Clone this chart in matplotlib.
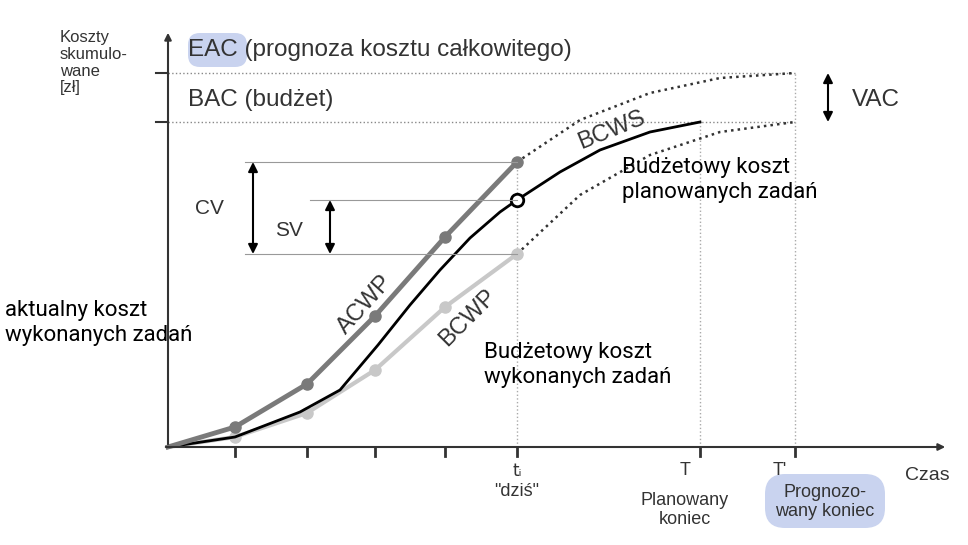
import matplotlib.pyplot as plt
from matplotlib.patches import FancyBboxPatch

# punkty krzywych (współrzędne rysunku)
bcws_x = [168, 235, 300, 340, 378, 410, 440, 470, 500, 517, 560, 600, 650, 700]
bcws_y = [447, 437, 412, 390, 345, 305, 270, 238, 212, 200, 172, 150, 132, 122]
acwp_x = [168, 235, 307, 375, 445, 517]
acwp_y = [447, 427, 384, 316, 237, 162]
bcwp_x = [168, 235, 307, 375, 445, 517]
bcwp_y = [447, 437, 413, 370, 307, 254]
acwp_dot_x = [517, 580, 650, 720, 795]
acwp_dot_y = [162, 120, 93, 78, 73]
bcwp_dot_x = [517, 580, 650, 720, 795]
bcwp_dot_y = [254, 195, 155, 132, 122]
x_ticks = [235, 307, 375, 445, 517, 700, 795]
eac_y, bac_y = 73, 122
x0, y0 = 168, 447

plt.rcParams['font.family'] = ['Liberation Sans', 'DejaVu Sans']
fig = plt.figure(figsize=(9.68, 5.45), dpi=100)
ax = fig.add_axes([0, 0, 1, 1])
ax.set_xlim(0, 968)
ax.set_ylim(545, 0)
ax.axis('off')

# osie
ax.annotate('', xy=(x0, 30), xytext=(x0, y0), arrowprops=dict(arrowstyle='-|>', color='#333', lw=1.5))
ax.annotate('', xy=(948, y0), xytext=(x0 - 5, y0), arrowprops=dict(arrowstyle='-|>', color='#333', lw=1.5))
for t in x_ticks:
    ax.plot([t, t], [y0, y0 + 9], color='#333', lw=2)
for yy in [eac_y, bac_y]:
    ax.plot([x0 - 12, x0], [yy, yy], color='#333', lw=1.5)
    ax.plot([x0, 795], [yy, yy], color='#888', lw=1, ls=':')

# linie pionowe
ax.plot([517, 517], [y0, 162], color='#aaa', lw=1, ls=':')
ax.plot([700, 700], [y0, bac_y], color='#aaa', lw=1, ls=':')
ax.plot([795, 795], [y0, eac_y], color='#aaa', lw=1, ls=':')

# krzywe
ax.plot(acwp_dot_x, acwp_dot_y, color='#333', lw=1.8, ls=':')
ax.plot(bcwp_dot_x, bcwp_dot_y, color='#333', lw=1.8, ls=':')
ax.plot(bcwp_x, bcwp_y, color='#c8c8c8', lw=3, marker='o', ms=8, markevery=range(1, 6))
ax.plot(bcws_x, bcws_y, color='black', lw=2)
ax.plot(acwp_x, acwp_y, color='#7a7a7a', lw=3.5, marker='o', ms=8, markevery=range(1, 6))
ax.plot([517], [200], marker='o', ms=9, mfc='white', mec='black', mew=2)

# CV, SV, VAC
ax.plot([245, 517], [162, 162], color='#999', lw=0.8)
ax.plot([245, 517], [254, 254], color='#999', lw=0.8)
ax.plot([310, 517], [200, 200], color='#999', lw=0.8)
arr = dict(arrowstyle='<|-|>', color='black', lw=1.5, mutation_scale=14, shrinkA=0, shrinkB=0)
ax.annotate('', xy=(253, 162), xytext=(253, 254), arrowprops=arr)
ax.annotate('', xy=(330, 200), xytext=(330, 254), arrowprops=arr)
ax.annotate('', xy=(828, eac_y), xytext=(828, bac_y), arrowprops=arr)

# podświetlenia
ax.add_patch(FancyBboxPatch((190, 35), 55, 30, boxstyle='round,pad=2,rounding_size=12', fc='#c9d3ef', ec='none'))
ax.add_patch(FancyBboxPatch((767, 476), 116, 50, boxstyle='round,pad=2,rounding_size=20', fc='#c9d3ef', ec='none'))

g = '#333'
ax.text(60, 30, 'Koszty\nskumulo-\nwane\n[zł]', fontsize=12, color=g, va='top', linespacing=1.15)
ax.text(188, 50, 'EAC (prognoza kosztu całkowitego)', fontsize=17.5, color=g, va='center')
ax.text(188, 100, 'BAC (budżet)', fontsize=17.5, color=g, va='center')
ax.text(852, 100, 'VAC', fontsize=17.5, color=g, va='center')
ax.text(195, 208, 'CV', fontsize=15, color=g, va='center')
ax.text(275, 230, 'SV', fontsize=15, color=g, va='center')
ax.text(612, 130, 'BCWS', fontsize=17, color=g, rotation=22, ha='center', va='center')
ax.text(365, 305, 'ACWP', fontsize=17, color=g, rotation=48, ha='center', va='center')
ax.text(468, 318, 'BCWP', fontsize=17, color=g, rotation=45, ha='center', va='center')
ax.text(622, 180, 'Budżetowy koszt\nplanowanych zadań', fontsize=16, va='center', family='Roboto')
ax.text(484, 365, 'Budżetowy koszt\nwykonanych zadań', fontsize=16, va='center', family='Roboto')
ax.text(5, 323, 'aktualny koszt\nwykonanych zadań', fontsize=16, va='center', family='Roboto')
ax.text(517, 462, 'tᵢ', fontsize=12, color=g, ha='center', va='top', family=['DejaVu Sans'])
ax.text(517, 492, '"dziś"', fontsize=13, color=g, ha='center', va='center')
ax.text(685, 462, 'T', fontsize=13, color=g, ha='center', va='top')
ax.text(685, 510, 'Planowany\nkoniec', fontsize=13, color=g, ha='center', va='center')
ax.text(780, 462, "T'", fontsize=13, color=g, ha='center', va='top')
ax.text(825, 502, 'Prognozo-\nwany koniec', fontsize=13, color=g, ha='center', va='center')
ax.text(905, 475, 'Czas', fontsize=14, color=g, va='center')

fig.savefig('out.png', dpi=100)
